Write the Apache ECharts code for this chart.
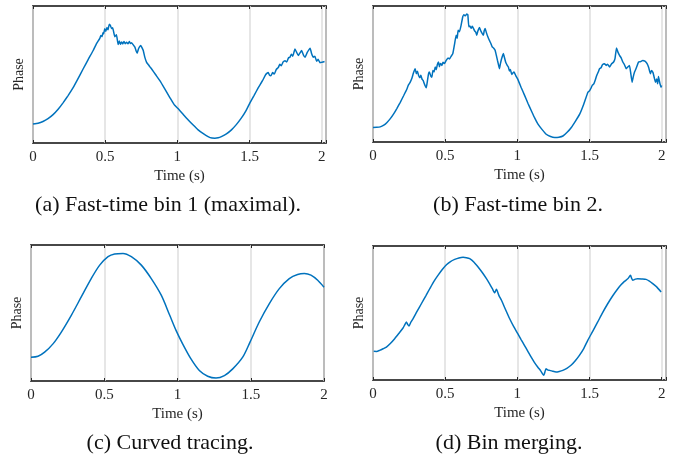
<!DOCTYPE html>
<html>
<head>
<meta charset="utf-8">
<script src="https://cdn.jsdelivr.net/npm/echarts@6/dist/echarts.min.js"></script>
<style>
  html, body { margin: 0; padding: 0; background: #fff; }
  #chart { width: 699px; height: 455px; }
</style>
</head>
<body>
<div id="chart"></div>
<script>
// time (s) and phase (arbitrary units, 0 = bottom of box, 100 = top)
var timeA = [0, 0.035, 0.069, 0.104, 0.139, 0.174, 0.208, 0.243, 0.278, 0.312, 0.347, 0.382, 0.417, 0.44, 0.463, 0.47, 0.478, 0.485, 0.49, 0.497, 0.505, 0.512, 0.52, 0.528, 0.536, 0.544, 0.552, 0.56, 0.567, 0.578, 0.59, 0.598, 0.606, 0.614, 0.622, 0.63, 0.64, 0.648, 0.658, 0.668, 0.675, 0.683, 0.692, 0.706, 0.714, 0.722, 0.73, 0.738, 0.746, 0.754, 0.764, 0.775, 0.787, 0.8, 0.81, 0.822, 0.85, 0.88, 0.915, 0.949, 0.978, 1.005, 1.04, 1.074, 1.11, 1.144, 1.18, 1.213, 1.24, 1.26, 1.283, 1.305, 1.34, 1.375, 1.41, 1.444, 1.475, 1.503, 1.532, 1.561, 1.59, 1.611, 1.62, 1.63, 1.638, 1.648, 1.66, 1.672, 1.685, 1.7, 1.71, 1.72, 1.733, 1.746, 1.758, 1.77, 1.78, 1.79, 1.8, 1.815, 1.826, 1.838, 1.85, 1.861, 1.873, 1.885, 1.9, 1.91, 1.92, 1.93, 1.942, 1.953, 1.965, 1.975, 1.988, 2.0, 2.02];
var phaseA = [13.8, 14.4, 15.7, 17.8, 20.7, 24.6, 29.3, 34.6, 40.4, 47, 54, 60.9, 67.5, 72.5, 76.4, 78.5, 77.6, 80.5, 79.8, 83.4, 81.5, 84.3, 82.6, 86.7, 85.8, 83.5, 84.2, 80.5, 77.6, 79, 71.9, 74.5, 72.1, 73.8, 72.3, 74.1, 72.5, 73.6, 72.4, 74, 72.6, 73.2, 72, 70, 67.4, 65.6, 68.5, 70.2, 71.2, 69.8, 67.5, 62.5, 58.9, 57.1, 55.6, 54, 49.8, 45.3, 39.1, 33, 28, 25.1, 21, 17, 13.1, 9.6, 6.8, 4.7, 3.6, 3.5, 3.8, 4.7, 6.7, 9.6, 13.6, 18.3, 23.5, 29.3, 34.8, 40.4, 45.5, 49.7, 50.8, 51.5, 49.6, 49, 51.4, 50.3, 53.6, 55.2, 57.5, 56.4, 59.2, 60.1, 59.1, 62.1, 62.6, 64.8, 63.4, 68.7, 66.3, 63.8, 65.8, 67.5, 64.3, 62.6, 66.1, 67.8, 69.2, 65.4, 62.6, 63.4, 59.6, 61.2, 58.6, 58.9, 59.5];

var timeB = [0, 0.025, 0.05, 0.075, 0.097, 0.12, 0.142, 0.165, 0.189, 0.212, 0.235, 0.245, 0.258, 0.27, 0.28, 0.292, 0.3, 0.308, 0.316, 0.325, 0.332, 0.339, 0.348, 0.355, 0.362, 0.369, 0.378, 0.385, 0.391, 0.4, 0.408, 0.415, 0.423, 0.431, 0.438, 0.446, 0.454, 0.46, 0.468, 0.477, 0.485, 0.495, 0.507, 0.52, 0.53, 0.542, 0.553, 0.565, 0.576, 0.583, 0.59, 0.599, 0.61, 0.622, 0.63, 0.64, 0.65, 0.657, 0.664, 0.672, 0.68, 0.688, 0.696, 0.705, 0.712, 0.719, 0.726, 0.732, 0.738, 0.747, 0.755, 0.765, 0.77, 0.777, 0.785, 0.795, 0.806, 0.815, 0.825, 0.835, 0.846, 0.855, 0.862, 0.868, 0.876, 0.882, 0.89, 0.903, 0.912, 0.92, 0.93, 0.938, 0.945, 0.952, 0.961, 0.969, 0.977, 0.99, 1.005, 1.028, 1.051, 1.074, 1.097, 1.12, 1.143, 1.172, 1.2, 1.23, 1.259, 1.288, 1.316, 1.345, 1.374, 1.403, 1.432, 1.46, 1.489, 1.5, 1.51, 1.52, 1.53, 1.54, 1.55, 1.56, 1.57, 1.58, 1.59, 1.604, 1.615, 1.625, 1.639, 1.652, 1.667, 1.677, 1.687, 1.697, 1.708, 1.72, 1.731, 1.742, 1.754, 1.765, 1.777, 1.785, 1.795, 1.803, 1.812, 1.826, 1.84, 1.855, 1.869, 1.884, 1.899, 1.91, 1.922, 1.93, 1.94, 1.948, 1.957, 1.965, 1.972, 1.978, 1.987, 1.996, 2.0];
var phaseB = [10.7, 10.8, 11.1, 12.4, 14.4, 17.2, 20.5, 24.6, 29.2, 34, 39, 41.8, 44, 47, 50.8, 53.9, 50.2, 52, 48.9, 47.3, 49, 46.4, 45.1, 43, 41.2, 39.8, 45.6, 50.3, 51.4, 48.6, 47.7, 52.6, 51.5, 55.1, 53.2, 57, 58.8, 55.4, 57.8, 56.3, 58.6, 57.7, 60, 61.8, 61, 63.2, 65, 72, 78.5, 76.2, 82.1, 81, 85.6, 92.1, 93.5, 92.8, 94.1, 93.6, 84.7, 85.3, 83.6, 85.1, 83.5, 81.6, 80.8, 78.5, 81.4, 83, 84.2, 81.7, 80.1, 78.5, 81.6, 83.5, 80.6, 77.5, 74.8, 72.8, 70.2, 69.1, 67.4, 63.5, 60.2, 57.4, 53.9, 57.2, 60.8, 65, 61.6, 58.4, 56.4, 55.1, 52.2, 53.4, 49.6, 50.7, 51.4, 48.6, 45.7, 39.7, 34.1, 28.3, 23, 17.7, 13.1, 9.1, 5.7, 4, 3.3, 3.5, 4.4, 7.1, 10.7, 15.4, 20.5, 27.8, 36.6, 37.6, 39.5, 41.8, 42.7, 45.6, 48.9, 51.3, 53.9, 54.6, 56.9, 57.6, 56.3, 57.2, 55.1, 57.4, 58.8, 61.5, 69.2, 66.1, 63.7, 61.7, 58.8, 56.8, 53.9, 55.2, 56.3, 51.2, 44, 47.9, 51.4, 54.9, 58.8, 59.1, 60, 59.4, 57.6, 54.8, 50.2, 52.6, 51, 47.6, 44, 46.3, 42.8, 48.1, 43.4, 40.3, 41.5];

var timeC = [0, 0.048, 0.093, 0.15, 0.207, 0.275, 0.343, 0.411, 0.469, 0.526, 0.571, 0.628, 0.685, 0.753, 0.821, 0.889, 0.947, 0.99, 1.035, 1.092, 1.149, 1.206, 1.263, 1.32, 1.377, 1.445, 1.495, 1.558, 1.627, 1.695, 1.763, 1.82, 1.866, 1.911, 1.957, 2.0];
var phaseC = [17.5, 18.2, 21.2, 27.3, 36, 48.3, 61.8, 75.3, 85.2, 91.4, 93.4, 93.8, 91.4, 85.2, 75.3, 63.1, 48.3, 37.2, 27.3, 16.2, 7.7, 3.5, 2.2, 4, 8.9, 17.5, 28.6, 43.4, 56.9, 67.9, 75.3, 78.3, 79, 77.8, 74.1, 69];

var timeD = [0.005, 0.025, 0.046, 0.07, 0.093, 0.12, 0.15, 0.18, 0.208, 0.22, 0.231, 0.24, 0.25, 0.262, 0.277, 0.305, 0.335, 0.365, 0.393, 0.42, 0.45, 0.48, 0.509, 0.537, 0.566, 0.595, 0.624, 0.647, 0.67, 0.7, 0.728, 0.757, 0.786, 0.807, 0.827, 0.843, 0.855, 0.872, 0.89, 0.918, 0.947, 0.975, 1.003, 1.026, 1.049, 1.072, 1.095, 1.118, 1.141, 1.162, 1.183, 1.199, 1.21, 1.222, 1.245, 1.268, 1.29, 1.315, 1.343, 1.372, 1.4, 1.43, 1.46, 1.488, 1.522, 1.557, 1.59, 1.626, 1.66, 1.696, 1.72, 1.742, 1.765, 1.784, 1.792, 1.8, 1.817, 1.834, 1.862, 1.892, 1.915, 1.938, 1.967, 1.996];
var phaseD = [21.4, 21.3, 22.1, 23.3, 24.6, 27.2, 30.8, 34.9, 38.8, 41.2, 43.3, 41.5, 40.3, 43.1, 45.7, 51.2, 56.9, 62.6, 68.1, 73.3, 78.1, 82.5, 86, 88.4, 90, 91.1, 91.6, 91.3, 90.5, 87.9, 84.3, 80.2, 75.6, 71.9, 68.1, 65.1, 67.7, 63.2, 59.5, 52.6, 45.7, 39.8, 34.6, 30.2, 25.9, 21.6, 17.2, 13.2, 9.7, 6.8, 3.5, 8.4, 7.6, 7.2, 6.5, 6, 6.4, 7.2, 8.7, 11, 14.2, 18.4, 23.5, 29.6, 36.3, 43.3, 50.1, 56.9, 62.7, 68.1, 71.2, 73.6, 75.5, 78.1, 75.8, 74.4, 75.3, 75.6, 75.4, 75.1, 73.8, 71.9, 69.3, 65.7];

var xTicks = [0, 0.5, 1, 1.5, 2];
var xMax = [2.03, 2.03, 2.0, 2.03];
var captions = ['(a) Fast-time bin 1 (maximal).', '(b) Fast-time bin 2.', '(c) Curved tracing.', '(d) Bin merging.'];

var times = [timeA, timeB, timeC, timeD];
var phases = [phaseA, phaseB, phaseC, phaseD];

var boxes = [
  { left: 33, top: 6, width: 293, height: 137 },
  { left: 373, top: 6, width: 293, height: 136 },
  { left: 31, top: 245, width: 293, height: 136 },
  { left: 373, top: 246, width: 293, height: 134 }
];
var capPos = [[168, 205], [518, 205], [170, 443], [509, 443]];
var smoothing = [0.12, 0.12, 0.3, 0.2];

var serif = 'Liberation Serif';
var ink = '#262626';

function pairs(t, y) {
  return t.map(function (v, i) { return [v, y[i]]; });
}

var grid = [], xAxis = [], yAxis = [], series = [], graphic = [];
boxes.forEach(function (b, i) {
  grid.push({
    left: b.left, top: b.top, width: b.width, height: b.height,
    show: true, borderColor: '#474747', borderWidth: 1.8, backgroundColor: '#fff'
  });
  xAxis.push({
    type: 'value', gridIndex: i, min: 0, max: xMax[i], interval: 0.5,
    name: 'Time (s)', nameLocation: 'middle', nameGap: 26,
    nameTextStyle: { fontFamily: serif, fontSize: 15, color: ink },
    axisLine: { show: false },
    axisTick: { show: true, inside: true, length: 3, lineStyle: { color: ink } },
    axisLabel: {
      margin: 7, fontFamily: serif, fontSize: 15, color: ink,
      formatter: function (v) { return xTicks.indexOf(v) >= 0 ? String(v) : ''; }
    },
    splitLine: { show: true, lineStyle: { color: '#dedede', width: 1.5 } }
  });
  xAxis.push({
    type: 'value', gridIndex: i, position: 'top', min: 0, max: xMax[i], interval: 0.5,
    axisLine: { show: false },
    axisTick: { show: true, inside: true, length: 3, lineStyle: { color: ink } },
    axisLabel: { show: false }, splitLine: { show: false }
  });
  yAxis.push({
    type: 'value', gridIndex: i, min: 0, max: 100,
    name: 'Phase', nameLocation: 'middle', nameGap: 7, nameRotate: 90,
    nameTextStyle: { fontFamily: serif, fontSize: 14, color: ink },
    axisLine: { show: false }, axisTick: { show: false },
    axisLabel: { show: false }, splitLine: { show: false }
  });
  series.push({
    type: 'line', xAxisIndex: i * 2, yAxisIndex: i,
    data: pairs(times[i], phases[i]),
    showSymbol: false, smooth: smoothing[i], animation: false,
    lineStyle: { color: '#0072BD', width: 1.5 }
  });
  graphic.push({
    type: 'text', x: capPos[i][0], y: capPos[i][1],
    style: {
      text: captions[i], fontFamily: serif, fontSize: 22, fill: '#111',
      align: 'center', verticalAlign: 'middle'
    }
  });
});

var chart = echarts.init(document.getElementById('chart'));
chart.setOption({
  animation: false,
  grid: grid,
  xAxis: xAxis,
  yAxis: yAxis,
  series: series,
  graphic: graphic
});
</script>
</body>
</html>
